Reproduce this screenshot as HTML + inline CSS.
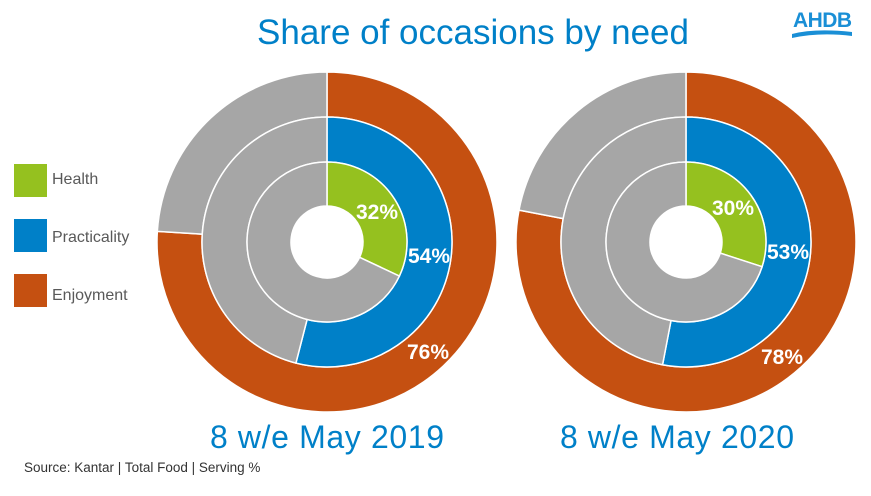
<!DOCTYPE html>
<html><head><meta charset="utf-8"><style>
body{margin:0;background:#fff;width:871px;height:491px;overflow:hidden;font-family:"Liberation Sans",Arial,sans-serif}
</style></head><body>
<svg id="c" width="871" height="491" xmlns="http://www.w3.org/2000/svg">
<text x="473" y="44" text-anchor="middle" font-size="35" fill="#0080c8">Share of occasions by need</text>
<g>
<text x="793" y="27" font-size="21" font-weight="bold" fill="#1a8fd6" textLength="59">AHDB</text>
<path d="M792,34 Q815,28 852,32 L852,36 Q820,32 792,38 Z" fill="#1a8fd6"/>
</g>
<g>
<rect x="14" y="164" width="33" height="33" fill="#95c11f"/>
<text x="52" y="184" font-size="16" fill="#595959">Health</text>
<rect x="14" y="219" width="33" height="33" fill="#0080c8"/>
<text x="52" y="242" font-size="16" fill="#595959">Practicality</text>
<rect x="14" y="274" width="33" height="33" fill="#c55011"/>
<text x="52" y="300" font-size="16" fill="#595959">Enjoyment</text>
</g>
<text x="327" y="448" text-anchor="middle" font-size="32" fill="#0080c8" textLength="234">8 w/e May 2019</text>
<text x="677" y="448" text-anchor="middle" font-size="32" fill="#0080c8" textLength="234">8 w/e May 2020</text>
<text x="24" y="472" font-size="13.5" fill="#333">Source: Kantar | Total Food | Serving %</text>
</svg>
<script>
const periods = ["2019","2020"];
const needs = ["enjoyment","practicality","health"];
const values2019 = [76,54,32];
const values2020 = [78,53,30];
const allValues=[values2019,values2020];
const colors=["#c55011","#0080c8","#95c11f"];
const centers=[[327,242],[686,242]];
const radii=[[125,170],[80,125],[36,80]];
const labelPos=[[[428,352],[429,256],[377,212]],[[782,357],[788,252],[733,208]]];
const svg=document.getElementById('c');
const NS="http://www.w3.org/2000/svg";
function pt(cx,cy,r,a){return [cx+r*Math.sin(a),cy-r*Math.cos(a)];}
function arc(cx,cy,r0,r1,a0,a1){
 const l=(a1-a0)>Math.PI?1:0;
 const p1=pt(cx,cy,r1,a0),p2=pt(cx,cy,r1,a1),p3=pt(cx,cy,r0,a1),p4=pt(cx,cy,r0,a0);
 return `M${p1}A${r1},${r1} 0 ${l} 1 ${p2}L${p3}A${r0},${r0} 0 ${l} 0 ${p4}Z`;
}
periods.forEach((p,pi)=>{
 const [cx,cy]=centers[pi];
 const g=document.createElementNS(NS,'g');
 
 
 svg.appendChild(g);
 needs.forEach((n,ni)=>{
  const v=allValues[pi][ni];const [r0,r1]=radii[ni];
  const a=v/100*2*Math.PI;
  const s=document.createElementNS(NS,'path');
  s.setAttribute('d',arc(cx,cy,r0,r1,0,a));
  s.setAttribute('fill',colors[ni]);s.setAttribute('stroke','#fff');s.setAttribute('stroke-width','1.5');
  
  
  g.appendChild(s);
  const r=document.createElementNS(NS,'path');
  r.setAttribute('d',arc(cx,cy,r0,r1,a,2*Math.PI-0.0001));
  r.setAttribute('fill','#a6a6a6');r.setAttribute('stroke','#fff');r.setAttribute('stroke-width','1.5');
  
  
  g.appendChild(r);
 });
 needs.forEach((n,ni)=>{
  const t=document.createElementNS(NS,'text');
  t.setAttribute('x',labelPos[pi][ni][0]);t.setAttribute('y',labelPos[pi][ni][1]+7);
  t.setAttribute('text-anchor','middle');t.setAttribute('font-size','21');t.setAttribute('font-weight','bold');t.setAttribute('fill','#fff');
  t.textContent=allValues[pi][ni]+'%';
  
  
  g.appendChild(t);
 });
});
</script>
</body></html>
